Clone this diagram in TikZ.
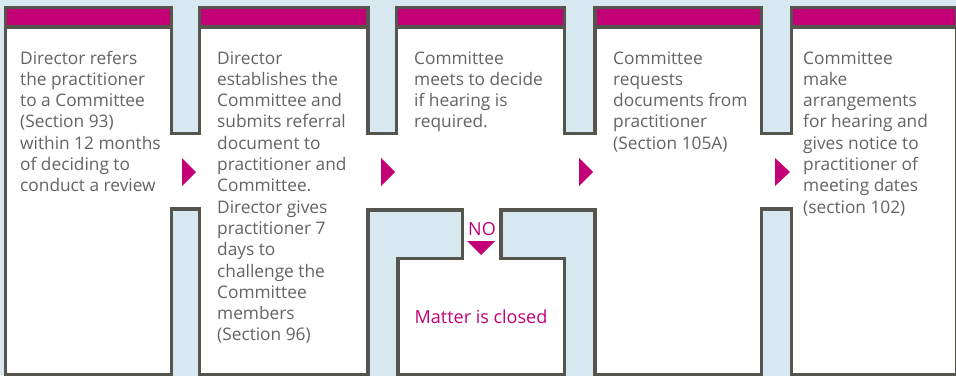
\documentclass[tikz,border=0pt]{standalone}
\usepackage{fontspec}
\setmainfont{Open Sans}
\definecolor{mag}{RGB}{196,0,118}
\definecolor{edge}{RGB}{85,85,77}
\definecolor{sky}{RGB}{216,232,240}
\definecolor{txt}{RGB}{100,100,100}
\begin{document}
\begin{tikzpicture}[x=1pt,y=-1pt,
  outline/.style={draw=edge,line width=3.4pt,line join=miter},
  bar/.style={outline,fill=mag},
  steptext/.style={anchor=base west,inner sep=0pt,align=left,text=txt,font=\fontsize{17.3}{21.3}\selectfont},
  pointer/.style={fill=mag},
  magtext/.style={anchor=base,inner sep=0pt,text=mag,font=\fontsize{18}{20}\selectfont}]
\useasboundingbox (0,0) rectangle (956,375);
\fill[sky] (0,0) rectangle (956,375);
% white area
\path[outline,fill=white]
  (5.3,7.5) -- (171.5,7.5) -- (171.5,133.5) -- (199.5,133.5) -- (199.5,7.5)
  -- (368,7.5) -- (368,133.5) -- (396.5,133.5) -- (396.5,7.5)
  -- (564.5,7.5) -- (564.5,133.5) -- (595,133.5) -- (595,7.5)
  -- (761.5,7.5) -- (761.5,133.5) -- (791.5,133.5) -- (791.5,7.5)
  -- (957,7.5) -- (957,374.5) -- (791.5,374.5) -- (791.5,209) -- (761.5,209)
  -- (761.5,374.5) -- (595,374.5) -- (595,210) -- (501,210) -- (501,258.5)
  -- (564.5,258.5) -- (564.5,374.5) -- (398,374.5) -- (398,258.5) -- (462.5,258.5)
  -- (462.5,210) -- (368,210) -- (368,374.5) -- (199.5,374.5) -- (199.5,209)
  -- (171.5,209) -- (171.5,374.5) -- (5.3,374.5) -- cycle;
% re-open the gutters at the bottom
\fill[sky] (173.2,370) rectangle (197.8,376);
\fill[sky] (369.7,370) rectangle (396.3,376);
\fill[sky] (566.2,370) rectangle (593.3,376);
\fill[sky] (763.2,370) rectangle (789.8,376);
% magenta bars
\path[bar] (5.3,7.5) rectangle (171.5,27);
\path[bar] (199.5,7.5) rectangle (368,27);
\path[bar] (396.5,7.5) rectangle (564.5,27);
\path[bar] (595,7.5) rectangle (761.5,27);
\path[bar] (791.5,7.5) rectangle (957,27);
% arrows
\fill[pointer] (182,158) -- (196,172) -- (182,186) -- cycle;
\fill[pointer] (381,158) -- (395,172) -- (381,186) -- cycle;
\fill[pointer] (579,158) -- (593,172) -- (579,186) -- cycle;
\fill[pointer] (775,158) -- (790,172) -- (775,186) -- cycle;
\fill[pointer] (467,241) -- (495,241) -- (481,255) -- cycle;
% texts (anchored at the baseline of the last line)
\node[steptext] (s1) at (20,191.8) {Director refers\\the practitioner\\to a Committee\\(Section 93)\\within 12 months\\of deciding to\\conduct a review};
\node[steptext] (s2) at (217,340.9) {Director\\establishes the\\Committee and\\submits referral\\document to\\practitioner and\\Committee.\\Director gives\\practitioner 7\\days to\\challenge the\\Committee\\members\\(Section 96)};
\node[steptext] (s3) at (414,127.9) {Committee\\meets to decide\\if hearing is\\required.};
\node[steptext] (s4) at (613,149.2) {Committee\\requests\\documents from\\practitioner\\(Section 105A)};
\node[steptext] (s5) at (803,213.1) {Committee\\make\\arrangements\\for hearing and\\gives notice to\\practitioner of\\meeting dates\\(section 102)};
\node[magtext] (no) at (482,235) {NO};
\node[magtext] (closed) at (481,323) {Matter is closed};
\end{tikzpicture}
\end{document}
